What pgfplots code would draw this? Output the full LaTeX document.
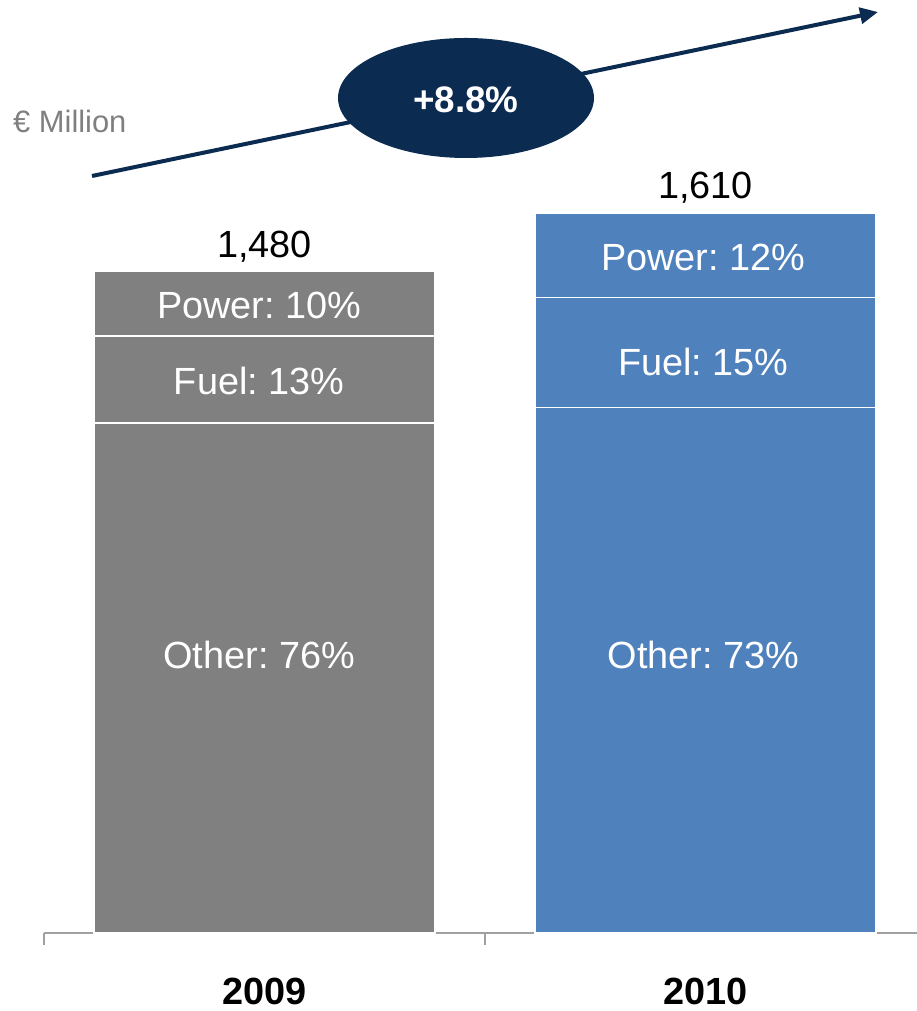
\documentclass[border=0pt]{standalone}
\usepackage{pgfplots}
\pgfplotsset{compat=1.18}
\usepackage{fontspec}
\setmainfont{Liberation Sans}
\usetikzlibrary{arrows.meta}
\definecolor{barGray}{HTML}{808080}
\definecolor{barBlue}{HTML}{4F81BD}
\definecolor{navy}{HTML}{0C2B50}
\definecolor{axGray}{HTML}{A0A0A0}
\definecolor{txtGray}{HTML}{7F7F7F}
\newcommand{\bigtxt}{\fontsize{38}{40}\selectfont}
\frenchspacing
\begin{document}
\begin{tikzpicture}[x=1bp,y=1bp]
\useasboundingbox (0,0) rectangle (917,1011);
\begin{axis}[
  at={(44bp,78bp)}, anchor=south west,
  scale only axis, width=873bp, height=933bp,
  xmin=-0.5, xmax=1.4796, ymin=0, ymax=2087,
  axis x line*=bottom, axis y line=none,
  x axis line style={-, draw=axGray, line width=1.5bp},
  xtick={0,1}, xticklabels={2009,2010},
  major tick length=0pt,
  minor xtick={-0.5,0.5},
  minor tick length=12bp,
  xtick align=outside,
  every tick/.style={draw=axGray, line width=1.5bp},
  xticklabel style={font=\bfseries\fontsize{38}{40}\selectfont, inner sep=0pt, text depth=0pt, yshift=-45bp},
  ybar stacked, bar width=0.7732,
  clip=false,
]
\addplot[fill=barGray, draw=white, line width=1.5bp] coordinates {(0,1141) (1,0)};
\addplot[fill=barGray, draw=white, line width=1.5bp] coordinates {(0,194) (1,0)};
\addplot[fill=barGray, draw=white, line width=1.5bp] coordinates {(0,145) (1,0)};
\addplot[fill=barBlue, draw=white, line width=1.5bp] coordinates {(0,0) (1,1176)};
\addplot[fill=barBlue, draw=white, line width=1.5bp] coordinates {(0,0) (1,246)};
\addplot[fill=barBlue, draw=white, line width=1.5bp] coordinates {(0,0) (1,188)};
\coordinate (a1) at (axis cs:-0.012,1403);
\coordinate (a2) at (axis cs:-0.012,1235);
\coordinate (a3) at (axis cs:-0.012,622);
\coordinate (b1) at (axis cs:0.995,1510);
\coordinate (b2) at (axis cs:0.995,1277);
\coordinate (b3) at (axis cs:0.995,622);
\coordinate (at) at (axis cs:0,1535);
\coordinate (bt) at (axis cs:1,1667);
\end{axis}
\node[text=white, font=\bigtxt] at (a1) {Power: 10\%};
\node[text=white, font=\bigtxt] at (a2) {Fuel: 13\%};
\node[text=white, font=\bigtxt] at (a3) {Other: 76\%};
\node[text=white, font=\bigtxt] at (b1) {Power: 12\%};
\node[text=white, font=\bigtxt] at (b2) {Fuel: 15\%};
\node[text=white, font=\bigtxt] at (b3) {Other: 73\%};
\node[text=black, font=\bigtxt] at (at) {1,480};
\node[text=black, font=\bigtxt] at (bt) {1,610};
\draw[navy, line width=4bp, -{Triangle[length=18bp, width=16bp]}] (92,835) -- (878,999);
\fill[navy] (466,913) ellipse [x radius=128, y radius=60];
\node[text=white, font=\bfseries\fontsize{37}{40}\selectfont] at (466,911) {+8.8\%};
\node[anchor=west, text=txtGray, font=\fontsize{31}{34}\selectfont, inner sep=0pt] at (13,890) {€ Million};
\end{tikzpicture}
\end{document}
